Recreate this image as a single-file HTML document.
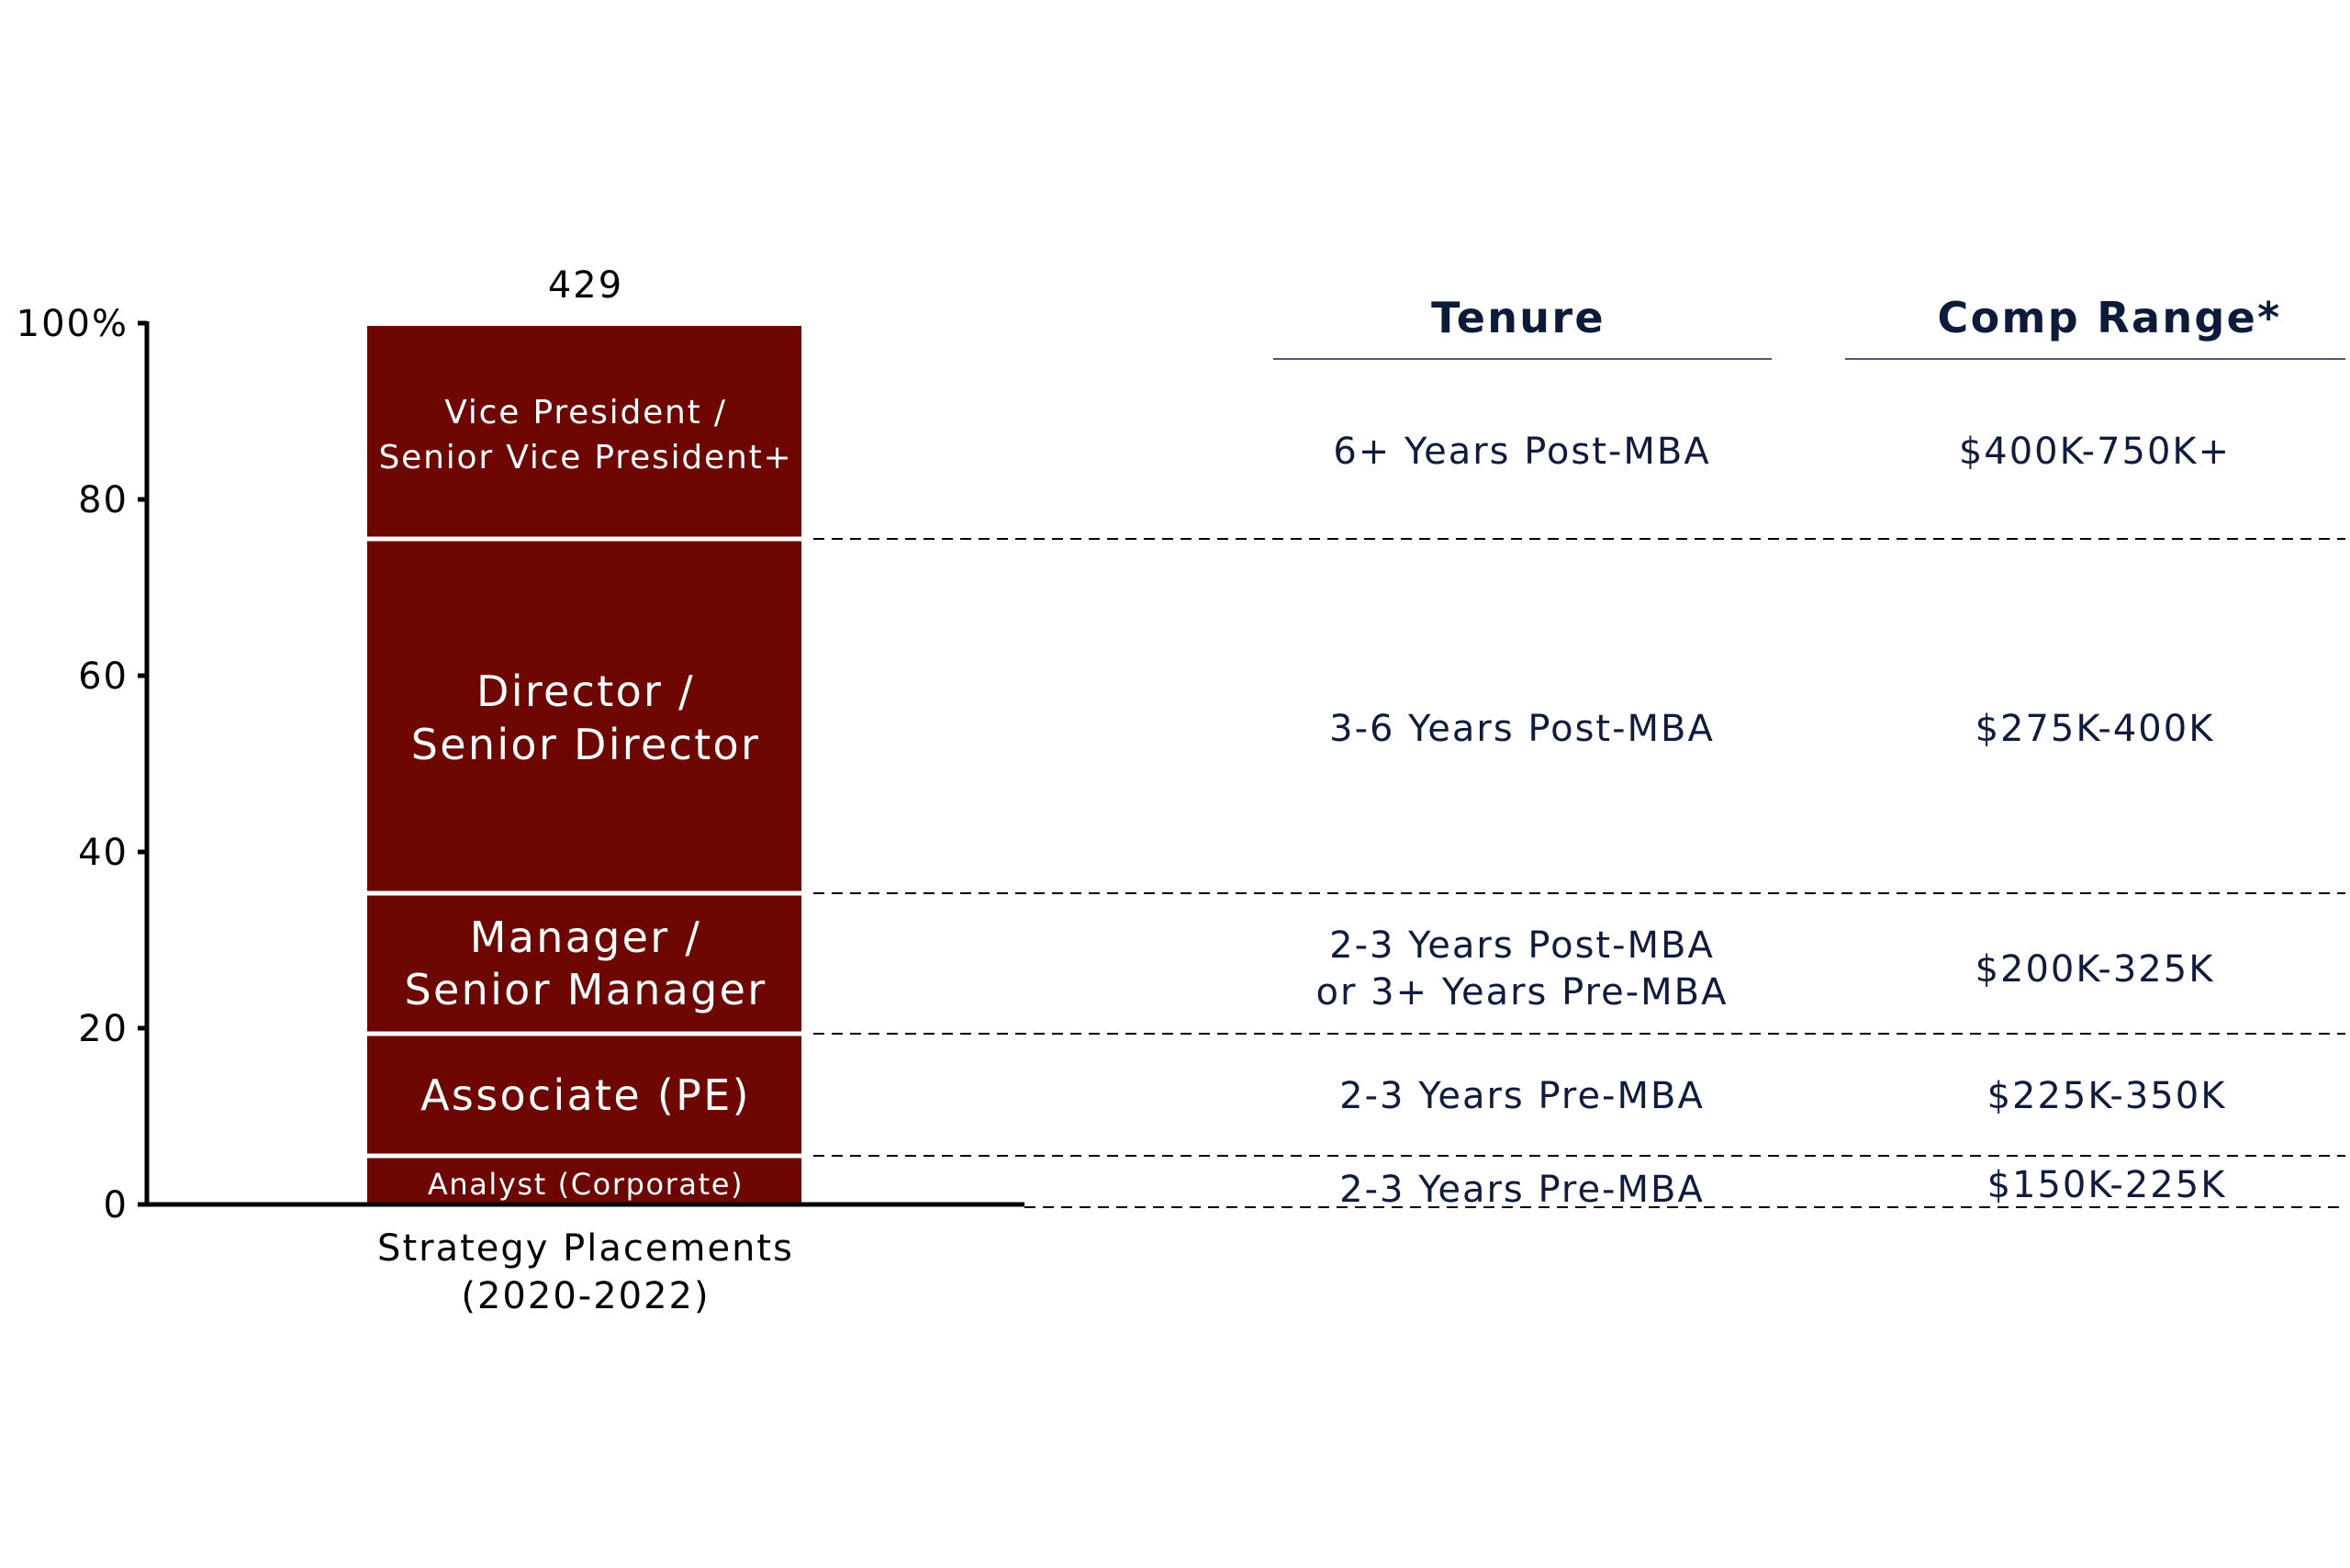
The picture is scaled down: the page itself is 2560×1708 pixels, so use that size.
<!DOCTYPE html>
<html><head><meta charset="utf-8"><style>
html,body{margin:0;padding:0;background:#fff;}
svg{display:block;}
text{font-family:"DejaVu Sans","Liberation Sans",sans-serif;letter-spacing:0.05em;}
</style></head><body>
<svg width="2560" height="1708" viewBox="0 0 2560 1708" xmlns="http://www.w3.org/2000/svg">
<rect width="2560" height="1708" fill="#fff"/>
<rect x="400" y="355" width="473" height="957" fill="#6e0602"/>
<g stroke="#fff" stroke-width="5">
<line x1="400" y1="587" x2="873" y2="587"/>
<line x1="400" y1="973" x2="873" y2="973"/>
<line x1="400" y1="1126" x2="873" y2="1126"/>
<line x1="400" y1="1259" x2="873" y2="1259"/>
</g>
<g stroke="#000" stroke-width="5">
<line x1="160" y1="350" x2="160" y2="1314"/>
<line x1="158" y1="1312" x2="1116" y2="1312"/>
<line x1="150" y1="352" x2="160" y2="352"/>
<line x1="150" y1="544" x2="160" y2="544"/>
<line x1="150" y1="736" x2="160" y2="736"/>
<line x1="150" y1="928" x2="160" y2="928"/>
<line x1="150" y1="1120" x2="160" y2="1120"/>
<line x1="150" y1="1312" x2="160" y2="1312"/>
</g>
<g font-size="40" fill="#000" text-anchor="end">
<text x="140" y="366">100%</text>
<text x="140" y="558">80</text>
<text x="140" y="750">60</text>
<text x="140" y="942">40</text>
<text x="140" y="1134">20</text>
<text x="140" y="1326">0</text>
</g>
<g stroke="#000" stroke-width="2" stroke-dasharray="12 8">
<line x1="886" y1="587" x2="2555" y2="587"/>
<line x1="886" y1="973" x2="2555" y2="973"/>
<line x1="886" y1="1126" x2="2555" y2="1126"/>
<line x1="886" y1="1259" x2="2555" y2="1259"/>
<line x1="1116" y1="1315" x2="2555" y2="1315"/>
</g>
<text x="638" y="324" font-size="40" text-anchor="middle" fill="#000">429</text>
<g fill="#fff" text-anchor="middle">
<text x="638" y="461" font-size="36">Vice President /</text>
<text x="638" y="510" font-size="36">Senior Vice President+</text>
<text x="638" y="769" font-size="46">Director /</text>
<text x="638" y="827" font-size="46">Senior Director</text>
<text x="638" y="1037" font-size="46">Manager /</text>
<text x="638" y="1094" font-size="46">Senior Manager</text>
<text x="638" y="1209" font-size="46">Associate (PE)</text>
<text x="638" y="1301" font-size="32">Analyst (Corporate)</text>
</g>
<g fill="#000" text-anchor="middle" font-size="40">
<text x="638" y="1373">Strategy Placements</text>
<text x="638" y="1425">(2020-2022)</text>
</g>
<g fill="#0d1a3a" font-weight="bold" font-size="46" text-anchor="middle">
<text x="1654" y="362">Tenure</text>
<text x="2298" y="362">Comp Range*</text>
</g>
<g stroke="#4a5a7a" stroke-width="2">
<line x1="1387" y1="391" x2="1930" y2="391"/>
<line x1="2010" y1="391" x2="2555" y2="391"/>
</g>
<g fill="#0f1c3f" font-size="40" text-anchor="middle">
<text x="1658" y="505">6+ Years Post-MBA</text>
<text x="1658" y="807">3-6 Years Post-MBA</text>
<text x="1658" y="1043">2-3 Years Post-MBA</text>
<text x="1658" y="1094">or 3+ Years Pre-MBA</text>
<text x="1658" y="1207">2-3 Years Pre-MBA</text>
<text x="1658" y="1309">2-3 Years Pre-MBA</text>
<text x="2282" y="505">$400K-750K+</text>
<text x="2282" y="807">$275K-400K</text>
<text x="2282" y="1069">$200K-325K</text>
<text x="2295" y="1207">$225K-350K</text>
<text x="2295" y="1304">$150K-225K</text>
</g>
</svg>
</body></html>
